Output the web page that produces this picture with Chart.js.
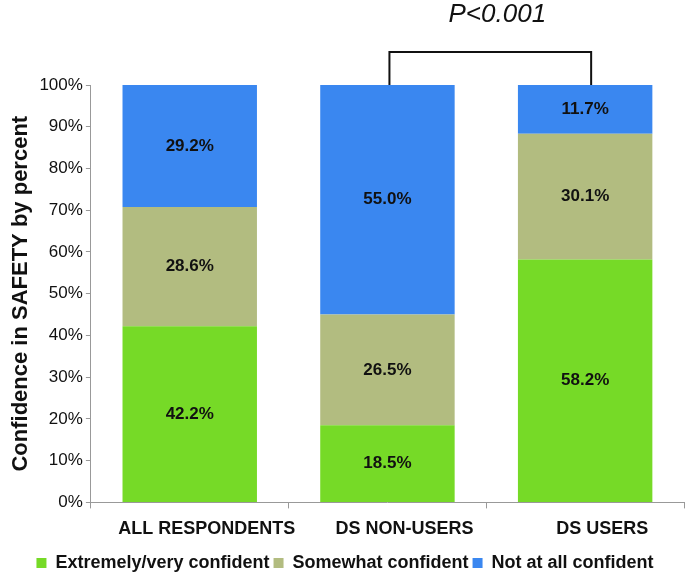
<!DOCTYPE html>
<html>
<head>
<meta charset="utf-8">
<script src="https://cdn.jsdelivr.net/npm/chart.js@4"></script>
<style>
  body { margin: 0; background: #fff; }
  #wrap { width: 685px; height: 578px; }
</style>
</head>
<body>
<div id="wrap"><canvas id="chart" width="685" height="578"></canvas></div>
<script>
const categories = ['ALL RESPONDENTS', 'DS NON-USERS', 'DS USERS'];
const extremely = [42.2, 18.5, 58.2];
const somewhat = [28.6, 26.5, 30.1];
const notAtAll = [29.2, 55.0, 11.7];
const yTicks = [0, 10, 20, 30, 40, 50, 60, 70, 80, 90, 100];
const pText = 'P<0.001';

const FONT = "'Liberation Sans', Arial, sans-serif";

// value labels in the middle of each segment
const segmentLabels = {
  id: 'segmentLabels',
  afterDatasetsDraw(chart) {
    const ctx = chart.ctx;
    ctx.save();
    ctx.font = 'bold 17px ' + FONT;
    ctx.fillStyle = '#111';
    ctx.textAlign = 'center';
    ctx.textBaseline = 'middle';
    chart.data.datasets.forEach((ds, i) => {
      chart.getDatasetMeta(i).data.forEach((bar, j) => {
        const y = (bar.y + bar.base) / 2;
        ctx.fillText(ds.data[j].toFixed(1) + '%', bar.x, y);
      });
    });
    ctx.restore();
  }
};

// significance bracket between non-users and users
const bracket = {
  id: 'bracket',
  afterDraw(chart) {
    const ctx = chart.ctx;
    const x = chart.scales.x;
    const y = chart.scales.y;
    const x1 = x.getPixelForValue(1) + 2;
    const x2 = x.getPixelForValue(2) + 6;
    const top = y.getPixelForValue(100);
    const up = top - 33;
    ctx.save();
    ctx.strokeStyle = '#111';
    ctx.lineWidth = 2;
    ctx.beginPath();
    ctx.moveTo(x1, top);
    ctx.lineTo(x1, up);
    ctx.lineTo(x2, up);
    ctx.lineTo(x2, top);
    ctx.stroke();
    ctx.font = 'italic 26px ' + FONT;
    ctx.fillStyle = '#111';
    ctx.textAlign = 'center';
    ctx.textBaseline = 'middle';
    ctx.fillText(pText, (x1 + x2) / 2 + 7, up - 37);
    ctx.restore();
  }
};

new Chart(document.getElementById('chart'), {
  type: 'bar',
  data: {
    labels: categories,
    datasets: [
      { label: 'Extremely/very confident', data: extremely, backgroundColor: '#76da27' },
      { label: 'Somewhat confident', data: somewhat, backgroundColor: '#b2bc80' },
      { label: 'Not at all confident', data: notAtAll, backgroundColor: '#3a87f0' }
    ]
  },
  options: {
    responsive: false,
    animation: false,
    categoryPercentage: 0.68,
    barPercentage: 1,
    layout: { padding: { top: 85, right: 1, left: 6, bottom: -4 } },
    plugins: {
      tooltip: { enabled: false },
      legend: {
        position: 'bottom',
        labels: {
          font: { family: FONT, size: 18, weight: 'bold' },
          color: '#111',
          boxWidth: 10,
          boxHeight: 10,
          padding: 4
        }
      }
    },
    scales: {
      x: {
        stacked: true,
        border: { color: '#999' },
        grid: { drawOnChartArea: false, color: '#999', tickLength: 6 },
        ticks: {
          font: { family: FONT, size: 18, weight: 'bold' },
          color: '#111',
          padding: 10,
          labelOffset: 17
        }
      },
      y: {
        stacked: true,
        min: 0,
        max: 100,
        border: { color: '#999' },
        grid: { drawOnChartArea: false, color: '#999', tickLength: 5 },
        afterBuildTicks(scale) {
          scale.ticks = yTicks.map(v => ({ value: v }));
        },
        ticks: {
          font: { family: FONT, size: 17 },
          color: '#111',
          padding: 3,
          callback: v => v + '%'
        },
        title: {
          display: true,
          text: 'Confidence in SAFETY by percent',
          font: { family: FONT, size: 22, weight: 'bold' },
          color: '#111',
          padding: 2
        }
      }
    }
  },
  plugins: [segmentLabels, bracket]
});
</script>
</body>
</html>
